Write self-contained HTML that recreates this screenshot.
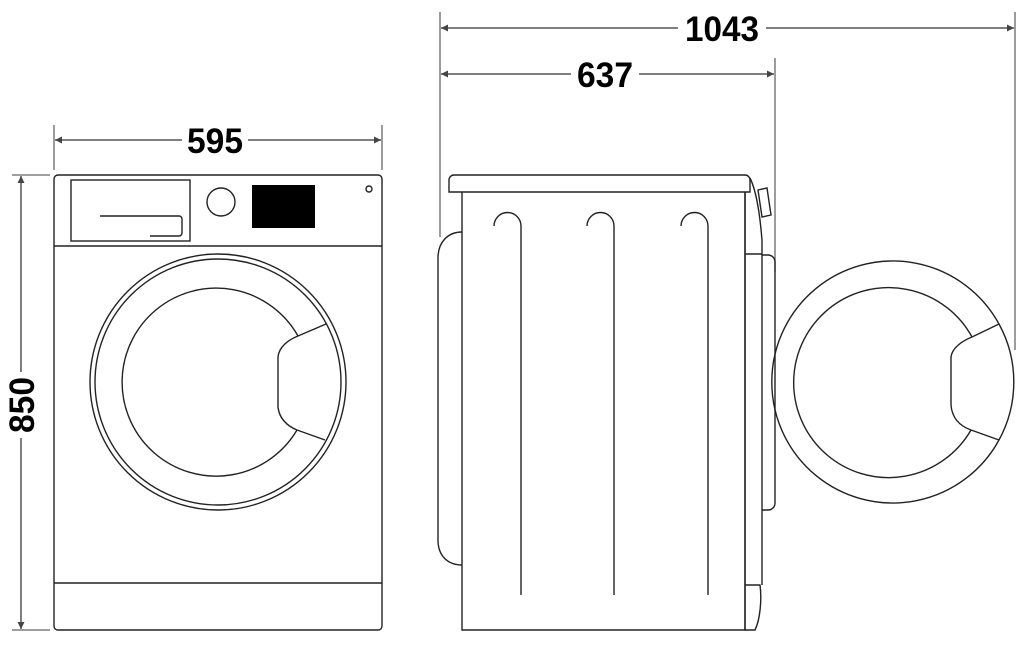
<!DOCTYPE html>
<html><head><meta charset="utf-8"><style>
html,body{margin:0;padding:0;background:#fff;}
svg{display:block;}
text{font-family:"Liberation Sans",sans-serif;font-weight:bold;font-size:35px;fill:#000;}
</style></head><body>
<svg width="1028" height="648" viewBox="0 0 1028 648" xmlns="http://www.w3.org/2000/svg">
<defs>
<marker id="a" viewBox="0 0 10 10" refX="10" refY="5" markerWidth="7" markerHeight="7" orient="auto-start-reverse" markerUnits="userSpaceOnUse"><path d="M0,0 L10,5 L0,10 z" fill="#444"/></marker>
</defs>
<g stroke="#666" stroke-width="1.3" fill="none">
<line x1="440" y1="12" x2="440" y2="237"/>
<line x1="1015" y1="12" x2="1015" y2="350"/>
<line x1="775" y1="58" x2="775" y2="272"/>
<line x1="54" y1="125" x2="54" y2="170"/>
<line x1="382" y1="125" x2="382" y2="170"/>
<line x1="12" y1="175" x2="50" y2="175"/>
<line x1="12" y1="630" x2="50" y2="630"/>
</g>
<g stroke="#555" stroke-width="1.5" fill="none">
<line x1="441" y1="28" x2="678" y2="28" marker-start="url(#a)"/>
<line x1="766" y1="28" x2="1014" y2="28" marker-end="url(#a)"/>
<line x1="441" y1="74" x2="571" y2="74" marker-start="url(#a)"/>
<line x1="639" y1="74" x2="774" y2="74" marker-end="url(#a)"/>
<line x1="55" y1="140" x2="182" y2="140" marker-start="url(#a)"/>
<line x1="248" y1="140" x2="381" y2="140" marker-end="url(#a)"/>
<line x1="21" y1="176" x2="21" y2="372" marker-start="url(#a)"/>
<line x1="21" y1="438" x2="21" y2="629" marker-end="url(#a)"/>
</g>
<text x="722" y="41" text-anchor="middle" textLength="74" lengthAdjust="spacingAndGlyphs">1043</text>
<text x="605" y="87" text-anchor="middle" textLength="56" lengthAdjust="spacingAndGlyphs">637</text>
<text x="215" y="153" text-anchor="middle" textLength="56" lengthAdjust="spacingAndGlyphs">595</text>
<text x="0" y="0" text-anchor="middle" transform="translate(34,405) rotate(-90)" textLength="56" lengthAdjust="spacingAndGlyphs">850</text>

<rect x="252" y="185" width="63" height="43" fill="#000"/>
<g stroke="#222" stroke-width="1.4" fill="none">
<rect x="54" y="175" width="328" height="455" rx="4"/>
<line x1="54" y1="246" x2="382" y2="246"/>
<line x1="54" y1="583" x2="382" y2="583"/>
<rect x="71" y="180" width="119" height="61"/>
<path d="M100,216 H179 a3,3 0 0 1 3,3 V233 a3,3 0 0 1 -3,3 H150"/>
<circle cx="221" cy="202" r="14"/>
<circle cx="369" cy="189" r="3"/>
<circle cx="218" cy="382" r="128"/>
<circle cx="218" cy="382" r="123"/>
<path d="M298,336 A94,94 0 1 0 297,430"/>
<path d="M298,336 L326,324 M297,430 L325,440"/>
<path d="M298,336 C288,340 279,347 278,357 L278,407 C279,418 287,426 297,430"/>
<path d="M449,180 a5,5 0 0 1 5,-5 H745 a5,5 0 0 1 5,5 V192 H449 Z"/>
<path d="M462,192 V630 H745 V192"/>
<path d="M462,232 C448,232 438,242 438,258 V540 C438,556 448,565 462,565"/>
<path d="M750,178 C756,190 760,215 762,240 V254 H745"/>
<path d="M745,585 H760 C762,600 760,620 755,630 H745"/>
<path d="M762,254 V585"/>
<path d="M762,255 H768 a7,7 0 0 1 7,7 V503 a7,7 0 0 1 -7,7 H762"/>
<path d="M758,190 L767,188 L771,215 L762,217 Z"/>
<path d="M494,226 a13.5,13.5 0 0 1 27,0 V595"/>
<path d="M587,226 a13.5,13.5 0 0 1 27,0 V595"/>
<path d="M681,226 a13.5,13.5 0 0 1 27,0 V595"/>
<line x1="745" y1="192" x2="745" y2="630"/>
<path d="M999,324 A121,121 0 1 0 999,440"/>
<path d="M999,324 A121,121 0 0 1 999,440"/>
<path d="M972,337 A95,95 0 1 0 971,430"/>
<path d="M972,337 L999,324 M971,430 L999,440"/>
<path d="M972,337 C962,341 952,348 951,357 L951,405 C952,418 960,426 971,430"/>
</g>
</svg>
</body></html>
